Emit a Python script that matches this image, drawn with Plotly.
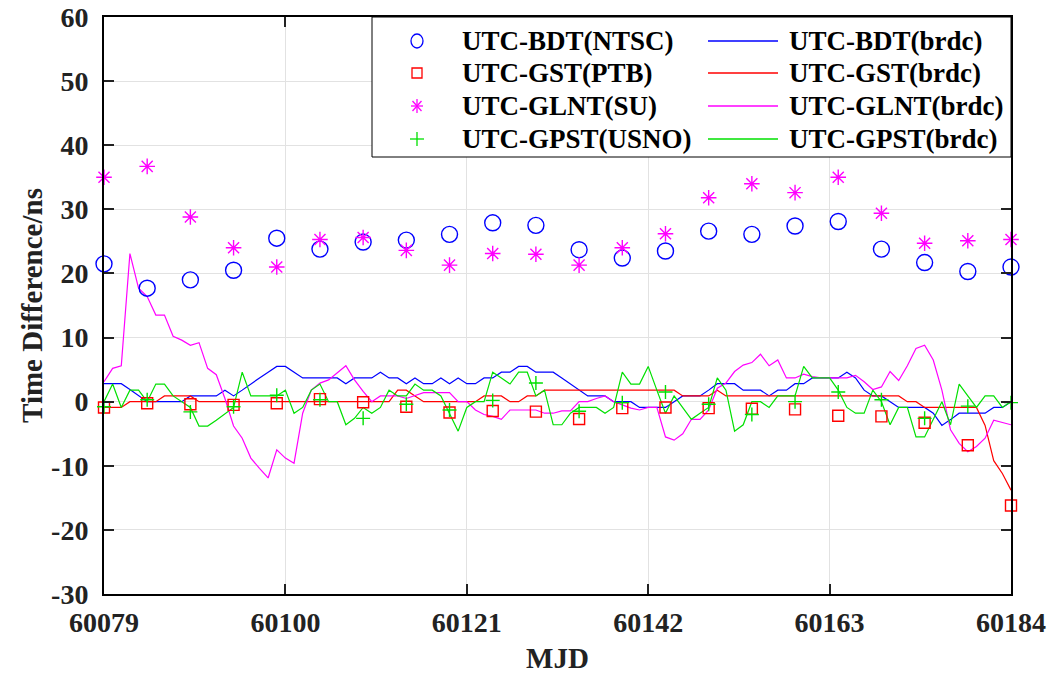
import plotly.graph_objects as go

# ---- sampling grids (MJD) ----
MJD_DAILY = list(range(60079, 60185))        # broadcast solutions, one per day
MJD_5DAY = list(range(60079, 60185, 5))      # lab / Circular-T style points

X_TICKS = [60079, 60100, 60121, 60142, 60163, 60184]
X_TICK_TEXT = ["60079", "60100", "60121", "60142", "60163", "60184"]
Y_TICKS = [-30, -20, -10, 0, 10, 20, 30, 40, 50, 60]
Y_TICK_TEXT = ["-30", "-20", "-10", "0", "10", "20", "30", "40", "50", "60"]

# ---- 5-day points (ns) ----
bdt_ntsc = [21.5, 17.7, 19.0, 20.5, 25.5, 23.8, 24.9, 25.2, 26.1, 27.9, 27.5,
            23.7, 22.4, 23.5, 26.6, 26.1, 27.4, 28.1, 23.8, 21.7, 20.3, 21.0]
gst_ptb = [-0.9, -0.25, -0.4, -0.5, -0.25, 0.4, -0.1, -0.8, -1.7, -1.45, -1.55,
           -2.7, -1.0, -0.9, -1.0, -1.1, -1.2, -2.2, -2.3, -3.3, -6.8, -16.2]
glnt_su = [35.0, 36.7, 28.8, 24.0, 21.0, 25.3, 25.6, 23.6, 21.3, 23.1, 23.0,
           21.3, 24.0, 26.2, 31.8, 34.0, 32.6, 35.0, 29.4, 24.7, 25.1, 25.3]
gpst_usno = [-0.8, 0.3, -1.6, -0.8, 1.0, 0.3, -2.6, -0.4, -1.3, 0.2, 2.9,
             -1.5, -0.15, 1.5, -0.4, -2.0, 0.0, 1.5, 0.3, -2.6, -0.7, -0.15]

# ---- daily broadcast offsets (ns) ----
bdt_brdc = [2.8, 2.8, 2.8, 1.9, 0.9, 0, 0, 0, 0, 0, 0.9, 0.9, 0.9, 0.9, 1.8,
            0.9, 1.8, 2.8, 3.7, 4.6, 5.5, 5.5, 4.6, 3.7, 3.7,
            3.7, 3.7, 3.7, 2.8, 3.7, 3.7, 3.7, 4.6, 3.7, 3.7, 2.8, 3.7, 2.8,
            2.8, 3.7, 2.8, 3.7, 2.8, 2.8, 3.7, 3.7, 4.6, 4.6, 5.5, 5.5, 4.6,
            4.6, 4.6, 3.7,
            2.8, 1.8, 0.9, 0.9, 0.9, 0, 0, 0, -0.9, -0.9, -0.9, -0.9, 0, 0.9,
            0.9, 0.9, 1.8, 2.8, 2.8, 2.8, 1.8, 1.8, 1.8, 0.9, 1.8, 1.8,
            2.8, 2.8, 3.7, 3.7, 3.7, 3.7, 4.6, 3.7, 1.8, 0.9, 0.9, 0, -0.9,
            -0.9, -0.9, -0.9, -1.8, -3.7, -2.8, -1.8, -1.8, -1.8, -1.8, -0.9,
            -0.9, 0]
gst_brdc = [-0.9, -0.9, -0.9, 0, 0, 0, 0, 0.9, 0.9, 0.9, 0.9, 0, 0, 0, 0, 0,
            0, 0, 0, 0, 0, 0, 0, 0, 0,
            0, 0, 0, 0, 0, 0, 0, 0, 0, 1.8, 1.8, 0.9, 0, 0, 0, 0, 0, 0, 0,
            0.9, 0.9, 0.9, 0, 0, 0.9, 0.9, 1.8, 1.8, 1.8,
            1.8, 1.8, 1.8, 1.8, 1.8, 1.8, 1.8, 1.8, 1.8, 1.8, 1.8, 1.8, 1.8,
            0.9, 0.9, 0.9, 0.9, 1.8, 0.9, 0.9, 0.9, 0.9, 0.9, 0.9, 0.9, 0.9,
            0.9, 0.9, 0.9, 0.9, 0.9, 0.9, 0.9, 0.9, 0.9, 0.9, 0.9, 0.9, 0.9,
            0, 0, -0.9, -0.9, -0.9, -0.9, -0.9, -0.9, -0.9, -3.7, -9.2, -11.2,
            -13.8]
glnt_brdc = [3.1, 5.2, 5.6, 23.1, 17.7, 16.4, 13.5, 13.5, 10.2, 9.6, 8.8, 9.2,
             5.2, 4.2, 0.5, -3.8, -5.7, -8.8, -10.4, -11.9, -7.5, -8.8, -9.6,
             -1.8, 1.8,
             2.9, 3.4, 4.5, 5.6, 3.4, 1.6, 0, 0.9, 0.9, 0.9, 0.5, 0.9, 1.4,
             1.4, 1.4, 1.4, 0, 0, -1.3, -2.0, -2.3, -2.75, -1.3, -1.3, -1.3,
             -1.3, -1.8, -1.8, -1.45,
             -1.45, 0, 0, 0.5, 0.9, 0, -0.5, -1.0, -1.3, -0.9, -0.9, -5.5,
             -6.0, -5.0, -2.75, -2.75, -1.3, 2.1, 2.9, 4.7, 5.7, 6.1, 7.4, 5.6,
             6.5, 3.7,
             3.7, 4.3, 3.9, 3.7, 3.7, 3.7, 3.7, 4.1, 3.1, 1.9, 2.3, 4.7, 3.3,
             5.6, 8.3, 8.8, 6.5, 1.8, -4.4, -6.5, -7.8, -7.0, -5.7, -2.9,
             -3.3, -3.6]
gpst_brdc = [0, 2.75, -0.9, 1.8, 1.8, 0, 2.75, 2.75, 0.9, 0, -0.9, -3.8, -3.8,
             -2.9, -1.9, -0.9, 4.6, 0.9, 0.9, 0.9, 0.9, 1.8, -1.8, -0.9, 1.8,
             2.75, 0, 0, -3.6, -2.6, -0.9, -1.8, -0.9, 1.8, 0.9, 0.9, 2.75,
             1.8, 1.8, 0.9, -1.8, -4.6, -0.9, 0, 0, 4.6, 3.7, 2.75, 4.6, 4.6,
             0.9, 1.8, -3.6, -3.6,
             -1.8, -0.9, -0.9, -0.9, -1.8, -0.9, 4.6, 2.75, 2.75, 5.5, 1.8,
             -1.8, 0.9, -0.9, -2.75, -1.8, -0.9, 3.7, 1.8, -4.6, -3.6, 0, 0,
             -0.9, 0.9, 0.9,
             0.9, 5.5, 3.7, 3.7, 3.7, 1.8, -0.9, -1.8, -1.8, 1.8, 0, -3.6,
             -0.9, -0.9, -5.5, -5.5, -2.75, 0, -3.6, 2.75, 0.9, -0.9, 0.9,
             0.9, -0.9, 0]

BLUE, RED, MAGENTA, GREEN = "#0000FF", "#FF0000", "#FF00FF", "#00E000"
FONT = "Liberation Serif, Times New Roman, serif"

fig = go.Figure()

# daily broadcast lines
for y, c in [(bdt_brdc, BLUE), (gst_brdc, RED), (glnt_brdc, MAGENTA), (gpst_brdc, GREEN)]:
    fig.add_trace(go.Scatter(x=MJD_DAILY, y=y, mode="lines",
                             line=dict(color=c, width=1.2), showlegend=False))

# 5-day markers
marker_specs = [
    (bdt_ntsc, BLUE, "circle-open", 16),
    (gst_ptb, RED, "square-open", 11),
    (glnt_su, MAGENTA, "asterisk-open", 13),
    (gpst_usno, GREEN, "cross-thin-open", 10),
]
for y, c, sym, sz in marker_specs:
    fig.add_trace(go.Scatter(x=MJD_5DAY, y=y, mode="markers", cliponaxis=False,
                             marker=dict(symbol=sym, size=sz, color=c,
                                         line=dict(color=c, width=1.4)),
                             showlegend=False))

# ---- legend drawn in paper space ----
PX_L, PX_R, PX_T, PX_B = 104, 1011, 17, 594


def fx(px):
    return (px - PX_L) / (PX_R - PX_L)


def fy(py):
    return (PX_B - py) / (PX_B - PX_T)


shapes = [dict(type="rect", xref="paper", yref="paper", x0=fx(372), x1=1,
               y0=fy(157), y1=1, line=dict(color="black", width=1),
               fillcolor="white", layer="above")]
annotations = []

rows = [41, 73, 106, 139]
left_labels = ["UTC-BDT(NTSC)", "UTC-GST(PTB)", "UTC-GLNT(SU)", "UTC-GPST(USNO)"]
right_labels = ["UTC-BDT(brdc)", "UTC-GST(brdc)", "UTC-GLNT(brdc)", "UTC-GPST(brdc)"]
colors = [BLUE, RED, MAGENTA, GREEN]


def glyph(kind, cx, cy, color):
    base = dict(xref="paper", yref="paper", xsizemode="pixel", ysizemode="pixel",
                xanchor=fx(cx), yanchor=fy(cy), layer="above",
                line=dict(color=color, width=1.3))
    out = []
    if kind == "circle":
        out.append(dict(base, type="circle", x0=-6, x1=6, y0=-7, y1=7))
    elif kind == "square":
        out.append(dict(base, type="rect", x0=-5, x1=5, y0=-5, y1=5))
    elif kind == "star":
        for (a, b, c2, d) in [(-6, 0, 6, 0), (0, -7, 0, 7), (-4.5, -5, 4.5, 5), (-4.5, 5, 4.5, -5)]:
            out.append(dict(base, type="line", x0=a, y0=b, x1=c2, y1=d))
    elif kind == "plus":
        for (a, b, c2, d) in [(-7, 0, 7, 0), (0, -7, 0, 7)]:
            out.append(dict(base, type="line", x0=a, y0=b, x1=c2, y1=d))
    return out


for ry, lab_l, lab_r, col, kind in zip(rows, left_labels, right_labels, colors,
                                       ["circle", "square", "star", "plus"]):
    shapes += glyph(kind, 417, ry, col)
    shapes.append(dict(type="line", xref="paper", yref="paper", layer="above",
                       x0=fx(708), x1=fx(778), y0=fy(ry), y1=fy(ry),
                       line=dict(color=col, width=1.3)))
    for tx, txt in [(460, lab_l), (787, lab_r)]:
        annotations.append(dict(xref="paper", yref="paper", x=fx(tx), y=fy(ry),
                                xanchor="left", yanchor="middle", showarrow=False,
                                text=txt,
                                font=dict(family=FONT, size=27, color="black",
                                          weight="bold")))

axis_common = dict(
    showgrid=True, gridcolor="#e2e2e2", gridwidth=1,
    showline=True, linecolor="black", linewidth=2, mirror="ticks",
    ticks="inside", ticklen=10, tickwidth=1.5, tickcolor="#222",
    zeroline=False, automargin=False,
    tickfont=dict(family=FONT, size=28, color="#222", weight="bold"),
)

fig.update_layout(
    width=1051, height=674,
    margin=dict(l=PX_L, r=1051 - PX_R, t=PX_T, b=674 - PX_B),
    paper_bgcolor="white", plot_bgcolor="white",
    showlegend=False,
    shapes=shapes, annotations=annotations,
    xaxis=dict(axis_common, range=[60079, 60184], tickvals=X_TICKS,
               ticktext=X_TICK_TEXT, ticklabelstandoff=2,
               title=dict(text="MJD", standoff=24,
                          font=dict(family=FONT, size=29, color="#222", weight="bold"))),
    yaxis=dict(axis_common, range=[-30, 60], tickvals=Y_TICKS,
               ticktext=Y_TICK_TEXT, ticklabelstandoff=8,
               title=dict(text="Time Difference/ns", standoff=0,
                          font=dict(family=FONT, size=29, color="#222", weight="bold"))),
)

fig.write_html("out.html")
